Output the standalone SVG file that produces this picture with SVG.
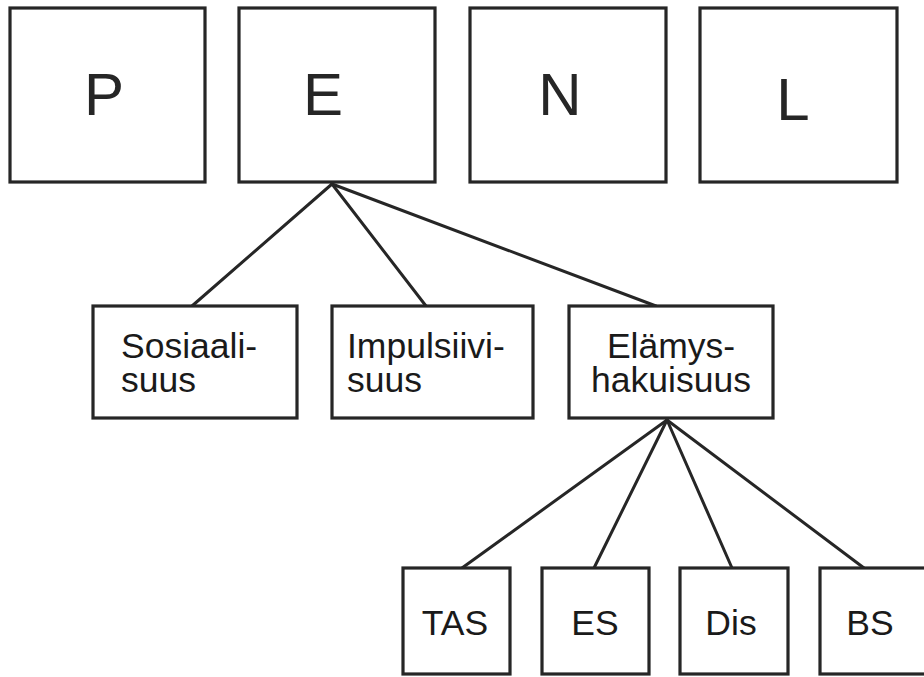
<svg xmlns="http://www.w3.org/2000/svg" width="924" height="677" viewBox="0 0 924 677">
<style>
.box{fill:#fff;stroke:#262626;stroke-width:3.2}
.ln{stroke:#262626;stroke-width:3;fill:none;stroke-linecap:round}
.big{font-family:"Liberation Sans",Arial,sans-serif;font-size:60px;fill:#262626;text-anchor:middle}
.mid{font-family:"Liberation Sans",Arial,sans-serif;font-size:35.5px;fill:#1a1a1a}
.sm{font-family:"Liberation Sans",Arial,sans-serif;font-size:35.5px;fill:#1a1a1a;text-anchor:middle}
</style>
<rect width="924" height="677" fill="#fff"/>
<g id="connectors">
<line class="ln" x1="332" y1="184" x2="192" y2="306"/>
<line class="ln" x1="332" y1="184" x2="426" y2="306"/>
<line class="ln" x1="332" y1="184" x2="656" y2="306"/>
<line class="ln" x1="667" y1="420" x2="462" y2="568"/>
<line class="ln" x1="667" y1="420" x2="594" y2="568"/>
<line class="ln" x1="667" y1="420" x2="732" y2="568"/>
<line class="ln" x1="667" y1="420" x2="864" y2="568"/>
</g>
<g id="P"><rect class="box" x="10" y="8" width="195" height="174"/><text class="big" x="104" y="115">P</text></g>
<g id="E"><rect class="box" x="239" y="8" width="196" height="174"/><text class="big" x="323" y="115">E</text></g>
<g id="N"><rect class="box" x="470" y="8" width="196" height="174"/><text class="big" x="560" y="115">N</text></g>
<g id="L"><rect class="box" x="700" y="8" width="197" height="174"/><text class="big" x="793" y="120">L</text></g>
<g id="sosiaalisuus"><rect class="box" x="93" y="306" width="204" height="112"/><text class="mid" x="121" y="358">Sosiaali-</text><text class="mid" x="121" y="392">suus</text></g>
<g id="impulsiivisuus"><rect class="box" x="332" y="306" width="201" height="112"/><text class="mid" x="347" y="358">Impulsiivi-</text><text class="mid" x="347" y="392">suus</text></g>
<g id="elamyshakuisuus"><rect class="box" x="569" y="306" width="204" height="112"/><text class="mid" x="671" y="358" text-anchor="middle">Elämys-</text><text class="mid" x="671" y="392" text-anchor="middle">hakuisuus</text></g>
<g id="TAS"><rect class="box" x="403" y="568" width="107" height="106"/><text class="sm" x="455" y="635">TAS</text></g>
<g id="ES"><rect class="box" x="542" y="568" width="107" height="106"/><text class="sm" x="595" y="635">ES</text></g>
<g id="Dis"><rect class="box" x="680" y="568" width="108" height="106"/><text class="sm" x="731" y="635">Dis</text></g>
<g id="BS"><rect class="box" x="820" y="568" width="110" height="106"/><text class="sm" x="870" y="635">BS</text></g>
</svg>
